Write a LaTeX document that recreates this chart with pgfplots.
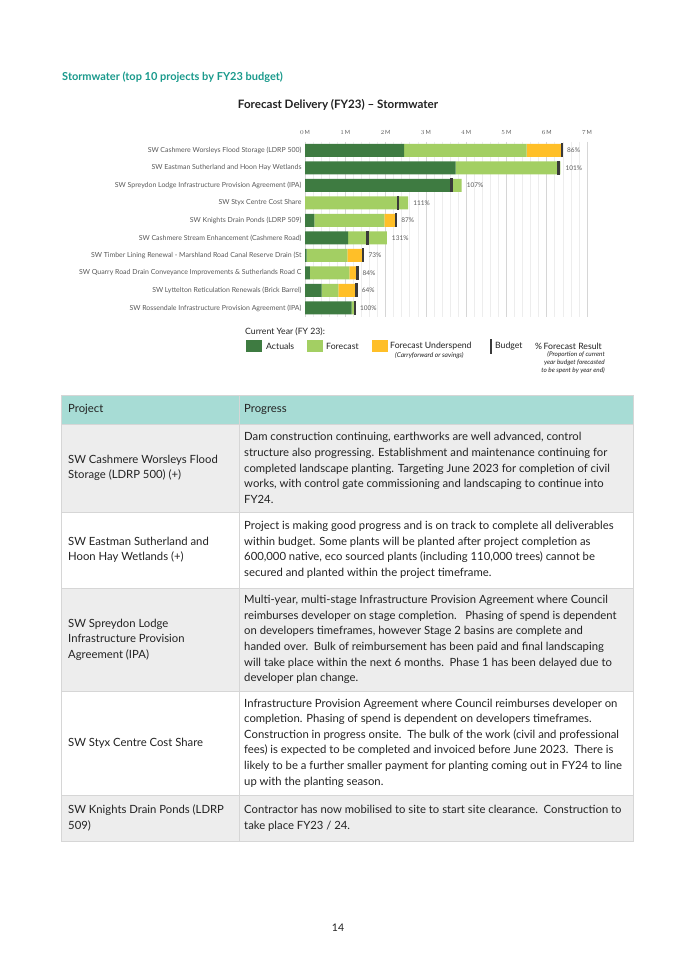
\documentclass[border=0pt]{standalone}
\usepackage{pgfplots}
\pgfplotsset{compat=1.18}
\usepackage{fontspec}
\setmainfont{Lato}
\definecolor{act}{HTML}{3E7B41}
\definecolor{fc}{HTML}{A3CF63}
\definecolor{us}{HTML}{FFBF28}
\definecolor{bud}{HTML}{3A3A3A}
\definecolor{hteal}{HTML}{1A9A8C}
\definecolor{hdr}{HTML}{A7DCD5}
\definecolor{rowg}{HTML}{EDEDED}
\definecolor{lbl}{HTML}{595959}
\definecolor{brd}{HTML}{D6D6D6}
\definecolor{txt}{HTML}{222222}
\newcommand{\fs}[2]{\fontsize{#1}{#2}\selectfont}
\begin{document}
\begin{tikzpicture}[x=1pt,y=1pt]
\path[fill=white,use as bounding box] (0,0) rectangle (675,-955);
% headings
\node[anchor=west,inner sep=0pt,font=\fs{11}{13}\bfseries,text=hteal] at (62,-77) {Stormwater (top 10 projects by FY23 budget)};
\node[inner sep=0pt,font=\fs{11.6}{13}\bfseries,text=txt] at (338,-105) {Forecast Delivery (FY23) -- Stormwater};
% chart
\begin{axis}[
  at={(305pt,-141.7pt)}, anchor=north west,
  scale only axis, width=282pt, height=175pt,
  xbar stacked, bar width=13pt,
  xmin=0, xmax=7, ymin=-0.5, ymax=9.5, y dir=reverse,
  ytick={0,...,9},
  yticklabels={SW Cashmere Worsleys Flood Storage (LDRP 500),
    SW Eastman Sutherland and Hoon Hay Wetlands,
    SW Spreydon Lodge Infrastructure Provision Agreement (IPA),
    SW Styx Centre Cost Share,
    SW Knights Drain Ponds (LDRP 509),
    SW Cashmere Stream Enhancement (Cashmere Road),
    SW Timber Lining Renewal - Marshland Road Canal Reserve Drain (St,
    SW Quarry Road Drain Conveyance Improvements \& Sutherlands Road C,
    SW Lyttelton Reticulation Renewals (Brick Barrel),
    SW Rossendale Infrastructure Provision Agreement (IPA)},
  yticklabel style={font=\fs{6.95}{8}, text=lbl},
  xtick={0,...,7},
  xticklabel pos=upper,
  xticklabel={\pgfmathprintnumber{\tick}\,M},
  xticklabel style={font=\fs{5.7}{6}, text=lbl, yshift=4pt},
  minor x tick num=4,
  xmajorgrids, xminorgrids,
  major grid style={draw=brd, line width=0.6pt},
  minor grid style={draw=rowg, line width=0.6pt},
  axis line style={draw=none},
  major tick style={draw=none}, minor tick style={draw=none},
]
\addplot[fill=act, draw=none] coordinates {(2.46,0) (3.74,1) (3.62,2) (0,3) (0.23,4) (1.07,5) (0.04,6) (0.12,7) (0.41,8) (1.16,9)};
\addplot[fill=fc, draw=none] coordinates {(3.04,0) (2.60,1) (0.27,2) (2.56,3) (1.74,4) (0.96,5) (1.01,6) (0.98,7) (0.42,8) (0.08,9)};
\addplot[fill=us, draw=none] coordinates {(0.87,0) (0,1) (0,2) (0,3) (0.29,4) (0,5) (0.40,6) (0.20,7) (0.45,8) (0,9)};
\end{axis}
\begin{axis}[
  at={(305pt,-141.7pt)}, anchor=north west,
  scale only axis, width=282pt, height=175pt,
  xmin=0, xmax=7, ymin=-0.5, ymax=9.5, y dir=reverse,
  hide axis, clip=false,
]
\addplot[only marks, mark=|, mark size=7pt, mark options={line width=2.6pt, draw=bud}] coordinates {(6.38,0) (6.29,1) (3.64,2) (2.31,3) (2.26,4) (1.55,5) (1.44,6) (1.30,7) (1.28,8) (1.24,9)};
\addplot[draw=none, mark=none, nodes near coords, point meta=explicit symbolic,
  nodes near coords style={anchor=west, font=\fs{6.5}{7}, text=lbl, inner sep=0pt, xshift=5pt}]
  coordinates {(6.38,0) [86\%] (6.34,1) [101\%] (3.89,2) [107\%] (2.56,3) [111\%] (2.26,4) [87\%] (2.03,5) [131\%] (1.45,6) [73\%] (1.30,7) [84\%] (1.28,8) [64\%] (1.24,9) [100\%]};
\end{axis}
% legend
\node[anchor=west,inner sep=0pt,font=\fs{8.7}{9},text=txt] at (245,-332) {Current Year (FY 23):};
\fill[act] (246,-340) rectangle (262,-352);
\node[anchor=west,inner sep=0pt,font=\fs{8.7}{9},text=txt] at (266,-346) {Actuals};
\fill[fc] (307,-340) rectangle (323,-352);
\node[anchor=west,inner sep=0pt,font=\fs{8.7}{9},text=txt] at (326,-346) {Forecast};
\fill[us] (372,-340) rectangle (388,-352);
\node[anchor=west,inner sep=0pt,font=\fs{8.7}{9},text=txt] at (390,-346) {Forecast Underspend};
\node[anchor=west,inner sep=0pt,font=\fs{6.6}{7}\itshape,text=txt] at (395,-355.5) {(Carryforward or savings)};
\fill[bud] (489.5,-339) rectangle (492.2,-354);
\node[anchor=west,inner sep=0pt,font=\fs{8.7}{9},text=txt] at (495,-346) {Budget};
\node[anchor=west,inner sep=0pt,font=\fs{8.7}{9},text=txt] at (535,-346) {\%\,Forecast Result};
\node[anchor=north east,inner sep=0pt,align=right,font=\fs{6.4}{8}\itshape,text=txt] at (605,-351.5) {(Proportion of current\\year budget forecasted\\to be spent by year end)};
% table
\fill[hdr] (61.7,-395) rectangle (633,-424);
\fill[rowg] (61.7,-424) rectangle (633,-512);
\fill[rowg] (61.7,-588) rectangle (633,-691);
\fill[rowg] (61.7,-795) rectangle (633,-841);
\draw[brd, line width=0.8pt] (61.7,-395) rectangle (633,-841);
\foreach \yy in {424,512,588,691,795} {\draw[brd, line width=0.8pt] (61.7,-\yy) -- (633,-\yy);}
\draw[brd, line width=0.8pt] (239,-395) -- (239,-841);
\begin{scope}[every node/.style={anchor=west,inner sep=0pt,align=left,font=\fs{11.3}{15.6},text=txt}]
\node at (68,-409.5) {Project};
\node at (244,-409.5) {Progress};
\node at (68,-468) {SW Cashmere Worsleys Flood\\Storage (LDRP 500) (+)};
\node at (244,-468) {Dam construction continuing, earthworks are well advanced, control\\structure also progressing. Establishment and maintenance continuing for\\completed landscape planting. Targeting June 2023 for completion of civil\\works, with control gate commissioning and landscaping to continue into\\FY24.};
\node at (68,-550) {SW Eastman Sutherland and\\Hoon Hay Wetlands (+)};
\node at (244,-550) {Project is making good progress and is on track to complete all deliverables\\within budget. Some plants will be planted after project completion as\\600,000 native, eco sourced plants (including 110,000 trees) cannot be\\secured and planted within the project timeframe.};
\node at (68,-639.5) {SW Spreydon Lodge\\Infrastructure Provision\\Agreement (IPA)};
\node at (244,-639.5) {Multi-year, multi-stage Infrastructure Provision Agreement where Council\\reimburses developer on stage completion.\ \ \ Phasing of spend is dependent\\on developers timeframes, however Stage 2 basins are complete and\\handed over.\ \ Bulk of reimbursement has been paid and final landscaping\\will take place within the next 6 months.\ \ Phase 1 has been delayed due to\\developer plan change.};
\node at (68,-743) {SW Styx Centre Cost Share};
\node at (244,-743) {Infrastructure Provision Agreement where Council reimburses developer on\\completion. Phasing of spend is dependent on developers timeframes.\\Construction in progress onsite.\ \ The bulk of the work (civil and professional\\fees) is expected to be completed and invoiced before June 2023.\ \ There is\\likely to be a further smaller payment for planting coming out in FY24 to line\\up with the planting season.};
\node at (68,-818) {SW Knights Drain Ponds (LDRP\\509)};
\node at (244,-818) {Contractor has now mobilised to site to start site clearance.\ \ Construction to\\take place FY23 / 24.};
\end{scope}
\node[inner sep=0pt,font=\fs{10.5}{12},text=txt] at (338,-928) {14};
\end{tikzpicture}
\end{document}
